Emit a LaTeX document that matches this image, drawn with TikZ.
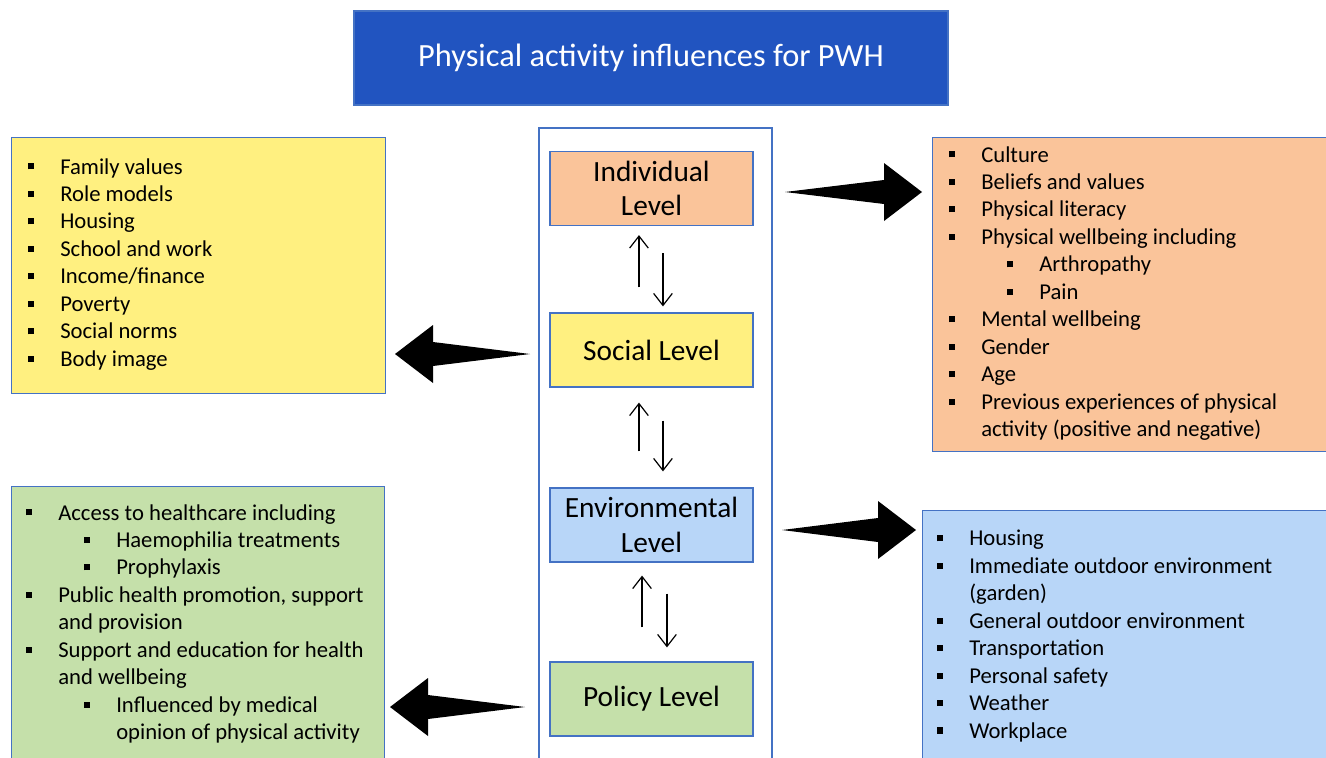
\documentclass[tikz,border=0pt]{standalone}
\usepackage{fontspec}
\setmainfont{Carlito}
\usetikzlibrary{positioning,arrows.meta,calc}

\definecolor{titleblue}{RGB}{33,84,192}
\definecolor{edgeblue}{RGB}{68,114,196}
\definecolor{peach}{RGB}{250,196,154}
\definecolor{lemon}{RGB}{255,240,128}
\definecolor{sky}{RGB}{184,214,248}
\definecolor{mint}{RGB}{197,224,170}

% bullets and indents of the lists
\newcommand{\sqb}{\rule[0.2em]{0.27em}{0.27em}}
\newcommand{\itm}{\makebox[24pt][l]{\sqb}}
\newcommand{\sitm}{\hspace{43.5pt}\makebox[24pt][l]{\sqb}}
\newcommand{\cnt}{\hspace{24pt}}
\newcommand{\scnt}{\hspace{67.5pt}}

% tapered block arrow: tail, tip, direction (1 right, -1 left)
\newcommand{\blockarrow}[3]{%
  \fill (#1) -- ($(#2)+(-38*#3,-12)$) -- ($(#2)+(-38*#3,-29)$) -- (#2)
    -- ($(#2)+(-38*#3,29)$) -- ($(#2)+(-38*#3,12)$) -- cycle;}

\tikzset{
  levelbox/.style={draw=edgeblue, line width=0.9pt, minimum width=152.25pt,
    minimum height=55.5pt, align=center, inner sep=0pt,
    font=\fontsize{22}{26}\selectfont},
  sidebox/.style={draw=edgeblue, line width=0.9pt, anchor=north west, inner sep=0pt},
  itemlist/.style={anchor=north west, align=left, inner sep=0pt,
    font=\fontsize{17}{20.6}\selectfont},
  flow/.style={-{Straight Barb[length=9pt,width=14pt]}, line width=0.9pt},
}

\begin{document}
\begin{tikzpicture}[x=0.75pt,y=-0.75pt]
  \useasboundingbox (0,0) rectangle (1326,757);

  % title
  \node[fill=titleblue, draw=edgeblue, line width=0.9pt, minimum width=445.5pt,
    minimum height=70.5pt, text=white, font=\fontsize{24.3}{29}\selectfont]
    (title) at (651,58) {Physical activity influences for PWH};

  % centre column
  \draw[edgeblue, line width=0.9pt] (539,128) rectangle (772,790);
  \node[levelbox, fill=peach] (indiv) at (651.5,188.5) {Individual\\Level};
  \node[levelbox, fill=lemon] (social) at (651.5,350) {Social Level};
  \node[levelbox, fill=sky] (env) at (651.5,525) {Environmental\\Level};
  \node[levelbox, fill=mint] (policy) at (651.5,699) {Policy Level};

  \draw[flow, shorten <=18.75pt, shorten >=6.75pt] ([xshift=-9.4pt]social.north) -- ([xshift=-9.4pt]indiv.south);
  \draw[flow, shorten <=20.25pt, shorten >=4.5pt] ([xshift=8.6pt]indiv.south) -- ([xshift=8.6pt]social.north);
  \draw[flow, shorten <=27pt, shorten >=11.25pt] ([xshift=-9.4pt]env.north) -- ([xshift=-9.4pt]social.south);
  \draw[flow, shorten <=24.75pt, shorten >=12pt] ([xshift=8.6pt]social.south) -- ([xshift=8.6pt]env.north);
  \draw[flow, shorten <=25.5pt, shorten >=9.75pt] ([xshift=-7.1pt]policy.north) -- ([xshift=-7.1pt]env.south);
  \draw[flow, shorten <=23.25pt, shorten >=10.5pt] ([xshift=11.6pt]env.south) -- ([xshift=11.6pt]policy.north);

  % side boxes
  \node[sidebox, fill=lemon, minimum width=280.5pt, minimum height=192pt] (socbox) at (11,137) {};
  \node[sidebox, fill=peach, minimum width=300pt, minimum height=235.5pt] (indbox) at (932,137) {};
  \node[sidebox, fill=mint, minimum width=279.75pt, minimum height=210pt] (polbox) at (11,486) {};
  \node[sidebox, fill=sky, minimum width=307.5pt, minimum height=195pt] (envbox) at (922,510) {};

  \node[itemlist] (soclist) at (28,158) {\itm Family values\\
    \itm Role models\\ \itm Housing\\ \itm School and work\\
    \itm Income/finance\\ \itm Poverty\\ \itm Social norms\\ \itm Body image};
  \node[itemlist] (indlist) at (949,146) {\itm Culture\\
    \itm Beliefs and values\\ \itm Physical literacy\\
    \itm Physical wellbeing including\\ \sitm Arthropathy\\ \sitm Pain\\
    \itm Mental wellbeing\\ \itm Gender\\ \itm Age\\
    \itm Previous experiences of physical\\
    \cnt activity (positive and negative)};
  \node[itemlist] (pollist) at (26,504) {\itm Access to healthcare including\\
    \sitm Haemophilia treatments\\ \sitm Prophylaxis\\
    \itm Public health promotion, support\\ \cnt and provision\\
    \itm Support and education for health\\ \cnt and wellbeing\\
    \sitm Influenced by medical\\ \scnt opinion of physical activity};
  \node[itemlist] (envlist) at (937,530) {\itm Housing\\
    \itm Immediate outdoor environment\\ \cnt (garden)\\
    \itm General outdoor environment\\ \itm Transportation\\
    \itm Personal safety\\ \itm Weather\\ \itm Workplace};

  % block arrows
  \coordinate (ar1a) at (785,192);
  \coordinate (ar1b) at (922,192);
  \coordinate (ar2a) at (530,354);
  \coordinate (ar2b) at (395,354);
  \coordinate (ar3a) at (782,530);
  \coordinate (ar3b) at (916,530);
  \coordinate (ar4a) at (525,707);
  \coordinate (ar4b) at (390,707);
  \blockarrow{ar1a}{ar1b}{1}
  \blockarrow{ar2a}{ar2b}{-1}
  \blockarrow{ar3a}{ar3b}{1}
  \blockarrow{ar4a}{ar4b}{-1}
\end{tikzpicture}
\end{document}
